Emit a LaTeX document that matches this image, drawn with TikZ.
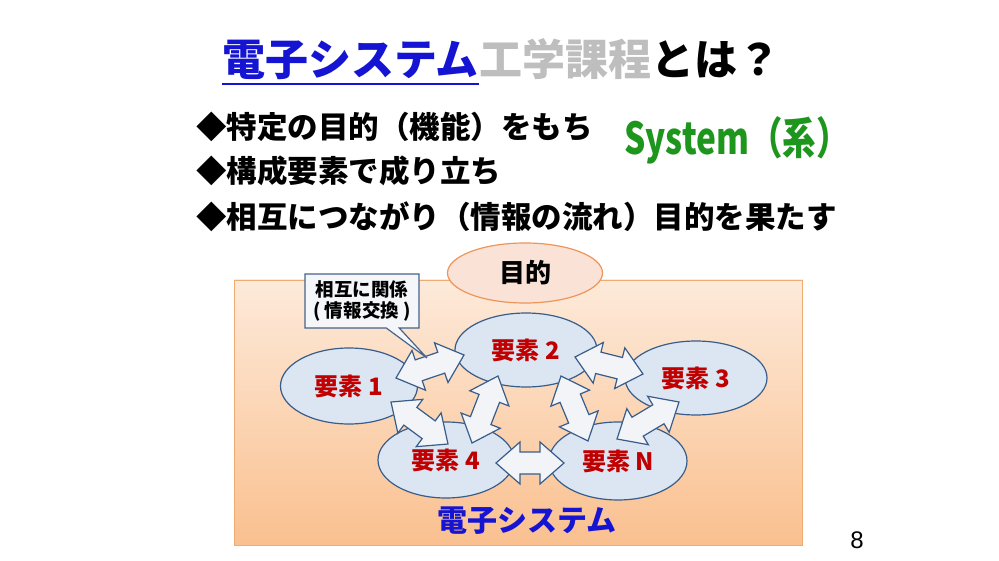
\documentclass[tikz,border=0pt]{standalone}
\usepackage{fontspec}
\usepackage{graphicx}
\setmainfont{Noto Sans CJK JP}
\newfontfamily\numfont{Liberation Sans}
\usetikzlibrary{shapes.geometric,shapes.callouts,calc}
\definecolor{titleblue}{RGB}{20,20,210}
\definecolor{titlegray}{RGB}{190,190,190}
\definecolor{sysgreen}{RGB}{30,150,30}
\definecolor{partfill}{RGB}{220,230,242}
\definecolor{partline}{RGB}{56,93,138}
\definecolor{partred}{RGB}{192,0,0}
\definecolor{flowfill}{RGB}{242,244,248}
\definecolor{boxtop}{RGB}{253,234,218}
\definecolor{boxbottom}{RGB}{250,192,143}
\definecolor{boxline}{RGB}{238,172,115}
\definecolor{goalfill}{RGB}{250,226,214}
\definecolor{goalline}{RGB}{236,150,90}
\definecolor{notefill}{RGB}{244,246,250}
\definecolor{noteline}{RGB}{70,100,140}
\tikzset{
  part/.style={ellipse, draw=partline, fill=partfill, line width=1.2pt,
    inner sep=0pt, text=partred, font=\bfseries\fontsize{24}{24}\selectfont},
  flow/.style={draw=partline, fill=flowfill, line width=1.2pt, line join=miter},
  titlepart/.style={anchor=base west, inner sep=0pt,
    font=\bfseries\fontsize{43}{43}\selectfont},
  bullet/.style={anchor=base west, inner sep=0pt,
    font=\bfseries\fontsize{30.5}{30.5}\selectfont}
}
\newcommand\bothway[2]{%
  \draw[flow] (#1)
    -- ($(#1)!24pt!(#2)!21pt!90:(#2)$)
    -- ($(#1)!24pt!(#2)!11pt!90:(#2)$)
    -- ($(#2)!24pt!(#1)!11pt!-90:(#1)$)
    -- ($(#2)!24pt!(#1)!21pt!-90:(#1)$)
    -- (#2)
    -- ($(#2)!24pt!(#1)!21pt!90:(#1)$)
    -- ($(#2)!24pt!(#1)!11pt!90:(#1)$)
    -- ($(#1)!24pt!(#2)!11pt!-90:(#2)$)
    -- ($(#1)!24pt!(#2)!21pt!-90:(#2)$)
    -- cycle;}
\begin{document}
\begin{tikzpicture}[x=1pt,y=-1pt]
  \fill[white] (0,0) rectangle (999,561);
  \node[titlepart, text=titleblue] (ttl1) at (222,76) {電子システム};
  \node[titlepart, text=titlegray] (ttl2) at (ttl1.base east) {工学課程};
  \node[titlepart] (ttl3) at (ttl2.base east) {とは？};
  \draw[titleblue, line width=2.5pt]
    ([yshift=-8pt]ttl1.base west) -- ([yshift=-8pt]ttl1.base east);
  \node[bullet] (b1) at (196,139) {◆特定の目的（機能）をもち};
  \node[bullet] (b2) at (196,183) {◆構成要素で成り立ち};
  \node[bullet] (b3) at (196,229) {◆相互につながり（情報の流れ）目的を果たす};
  \node[text=sysgreen, font=\bfseries\fontsize{44}{44}\selectfont]
    (sys) at (737,140) {\scalebox{0.76}[1]{System（系）}};
  \draw[boxline, top color=boxtop, bottom color=boxbottom] (234,280) rectangle (802,545);
  \node[ellipse, draw=goalline, fill=goalfill, line width=1.2pt,
    minimum width=155pt, minimum height=60pt,
    font=\bfseries\fontsize{26}{26}\selectfont] (goal) at (525,273) {目的};
  \draw
    (349,386) node[part, minimum width=137pt, minimum height=76pt] (p1) {要素 1}
    (526,350) node[part, minimum width=142pt, minimum height=74pt] (p2) {要素 2}
    (696,378) node[part, minimum width=142pt, minimum height=74pt] (p3) {要素 3}
    (446,460) node[part, minimum width=136pt, minimum height=76pt] (p4) {要素 4}
    (618,461) node[part, minimum width=138pt, minimum height=78pt] (pN) {要素 N};
  \coordinate (f12a) at (396,378);
  \coordinate (f12b) at (464,355);
  \coordinate (f23a) at (575,357);
  \coordinate (f23b) at (643,374);
  \coordinate (f14a) at (391,402);
  \coordinate (f14b) at (448,444);
  \coordinate (f42a) at (472,443);
  \coordinate (f42b) at (498,376);
  \coordinate (f2Na) at (561,376);
  \coordinate (f2Nb) at (588,441);
  \coordinate (f3Na) at (679,402);
  \coordinate (f3Nb) at (617,439);
  \coordinate (f4Na) at (496,463);
  \coordinate (f4Nb) at (564,463);
  \begin{scope}
    \bothway{f12a}{f12b}
    \bothway{f23a}{f23b}
    \bothway{f14a}{f14b}
    \bothway{f42a}{f42b}
    \bothway{f2Na}{f2Nb}
    \bothway{f3Na}{f3Nb}
    \bothway{f4Na}{f4Nb}
  \end{scope}
  \coordinate (tip) at (427,358);
  \node[rectangle callout, draw=noteline, fill=notefill, line width=1.2pt,
    minimum width=114pt, minimum height=54pt, inner sep=0pt,
    callout absolute pointer={(tip)}, callout pointer width=13pt, align=center,
    font=\bfseries\fontsize{18.5}{21}\selectfont] (note) at (362,301) {相互に関係\\( 情報交換 )};
  \node[text=titleblue, font=\bfseries\fontsize{30}{30}\selectfont] (sysname) at (527,521) {電子システム};
  \node[font=\numfont\fontsize{24}{24}\selectfont] (page) at (857,540) {8};
\end{tikzpicture}
\end{document}
